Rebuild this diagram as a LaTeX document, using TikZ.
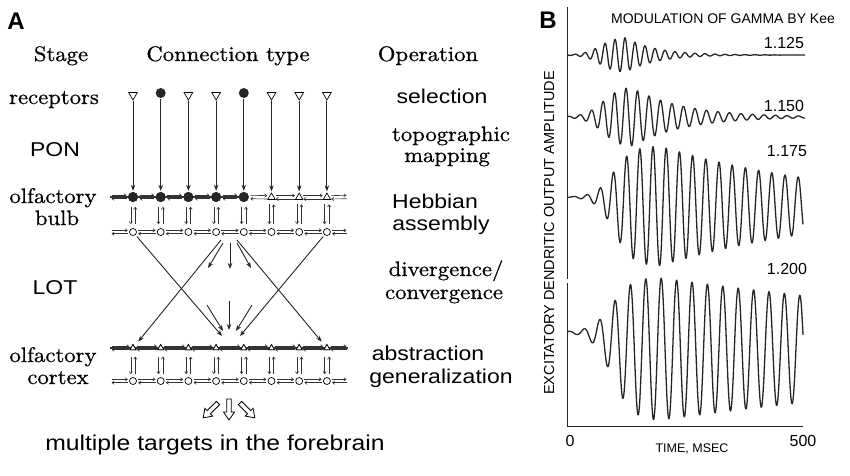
\documentclass[tikz,border=0pt]{standalone}
\usepackage{fontspec}
\newfontfamily\lmt{lmroman10-regular.otf}[FakeBold=0.7]
\newfontfamily\lis{Liberation Sans}
\usetikzlibrary{arrows.meta,shapes.geometric,calc}
\newcommand\sw[1]{\scalebox{1.08}[1]{#1}}
\newcommand\ssw[1]{\scalebox{1.15}[1]{#1}}
\newcommand\hollowarr[3]{%
  \begin{scope}[shift={(#1,#2)},rotate=#3]
    \draw[line width=0.8pt,fill=white,line join=miter] (0,-2.3) -- (13,-2.3) -- (13,-5.5) -- (21,0) -- (13,5.5) -- (13,2.3) -- (0,2.3) -- cycle;
  \end{scope}}
\begin{document}
\begin{tikzpicture}[x=1pt,y=-1pt,
  ser/.style={font=\lmt\fontsize{21}{23}\selectfont, anchor=base, inner sep=0pt},
  san/.style={font=\lis\fontsize{20}{22}\selectfont, anchor=base, inner sep=0pt},
  lbl/.style={font=\lis\bfseries\fontsize{24}{26}\selectfont, inner sep=0pt},
  bsm/.style={font=\lis\fontsize{16}{18}\selectfont, inner sep=0pt},
  rtri/.style={regular polygon, regular polygon sides=3, shape border rotate=180, draw, line width=0.7pt, inner sep=0pt, minimum size=10pt, fill=white},
  mtri/.style={regular polygon, regular polygon sides=3, draw, line width=0.7pt, inner sep=0pt, minimum size=8.5pt, fill=white},
  ptri/.style={regular polygon, regular polygon sides=3, draw, line width=0.7pt, inner sep=0pt, minimum size=7pt, fill=white},
  fcirc/.style={circle, fill=black!85, inner sep=0pt, minimum size=10pt},
  ocirc/.style={circle, draw, fill=white, line width=0.7pt, inner sep=0pt, minimum size=7pt},
  endpt/.style={inner sep=0pt, minimum size=0pt},
  arr/.style={line width=0.9pt, draw=black!85, -{Stealth[length=6pt,width=4.5pt]}},
  hp/.style={line width=0.6pt, draw=black!80, -{Straight Barb[length=2.2pt,width=3.2pt]}},
  trace/.style={line width=1.3pt, line join=round, draw=black!85}
]
\fill[white] (0,0) rectangle (850,475);
\useasboundingbox (0,0) rectangle (850,475);

% ---------------- Panel A labels
\node[lbl] (A) at (16,21) {A};
\node[ser] (hStage) at (61,61) {\sw{Stage}};
\node[ser] (hConn) at (228,61) {\sw{Connection type}};
\node[ser] (hOp) at (428,61) {\sw{Operation}};
\node[ser] (sRec) at (54,104) {\sw{receptors}};
\node[san] (sPON) at (55,156) {\ssw{PON}};
\node[ser] (sOB1) at (53,203) {\sw{olfactory}};
\node[ser] (sOB2) at (57,225) {\sw{bulb}};
\node[san] (sLOT) at (55,294) {\ssw{LOT}};
\node[ser] (sOC1) at (53,362) {\sw{olfactory}};
\node[ser] (sOC2) at (58,384) {\sw{cortex}};
\node[san] (oSel) at (442,103) {\ssw{selection}};
\node[ser] (oTop1) at (451,141) {\sw{topographic}};
\node[ser] (oTop2) at (447,162) {\sw{mapping}};
\node[san] (oHeb1) at (435,208) {\ssw{Hebbian}};
\node[san] (oHeb2) at (441,230) {\ssw{assembly}};
\node[ser] (oDiv1) at (446,276) {\sw{divergence/}};
\node[ser] (oDiv2) at (444,299) {\sw{convergence}};
\node[san] (oAbs1) at (428,360) {\ssw{abstraction}};
\node[san] (oAbs2) at (441,383) {\ssw{generalization}};
\node[san, font=\lis\fontsize{21.5}{24}\selectfont] (oMul) at (215,450) {\ssw{multiple targets in the forebrain}};

% ---------------- neural elements
\foreach \i in {1,...,8} {
  \pgfmathsetmacro\xx{133+27.7*(\i-1)}
  \ifnum\i=2 \node[fcirc] (r\i) at (\xx,93) {};
  \else\ifnum\i=5 \node[fcirc] (r\i) at (\xx,93) {};
  \else \node[rtri] (r\i) at (\xx,95) {};
  \fi\fi
  \ifnum\i<6 \node[fcirc] (m\i) at (\xx,197) {};
  \else \node[mtri] (m\i) at (\xx,197.3) {};
  \fi
  \node[ocirc] (g\i) at (\xx,232) {};
  \node[ptri] (p\i) at (\xx,348) {};
  \node[ocirc] (c\i) at (\xx,381) {};
}
\foreach \r/\yy in {m/197,g/232,p/348,c/381} {
  \node[endpt] (\r0) at (110,\yy) {};
  \node[endpt] (\r9) at (348,\yy) {};
}

% thick bands
\draw[line width=1.5pt, black!80] (m0) -- (m5);
\draw[line width=1.2pt, black!80] (p0) -- (p9);
\foreach \i in {1,...,5} {\node[fcirc] at (m\i) {};}
\foreach \i in {1,...,8} {\node[ptri] at (p\i) {};}

% horizontal reciprocal pairs
\foreach \r in {m,g,p,c} {
  \foreach \i [evaluate=\i as \j using int(\i+1)] in {0,...,8} {
    \draw[hp] ($(\r\i.east)+(1.3,-1.7)$) -- ($(\r\j.west)+(-1.3,-1.7)$);
    \draw[hp] ($(\r\j.west)+(-1.3,1.7)$) -- ($(\r\i.east)+(1.3,1.7)$);
  }
}

% vertical reciprocal pairs
\foreach \i in {1,...,8} {
  \draw[hp] ($(m\i.south)+(-2.2,4.5)$) -- ($(g\i.north)+(-2.2,-4)$);
  \draw[hp] ($(g\i.north)+(2.2,-4)$) -- ($(m\i.south)+(2.2,4.5)$);
  \draw[hp] ($(p\i.south)+(-2.2,6.5)$) -- ($(c\i.north)+(-2.2,-3)$);
  \draw[hp] ($(c\i.north)+(2.2,-3)$) -- ($(p\i.south)+(2.2,6.5)$);
}

% receptor axons (PON)
\foreach \i in {1,...,8} {
  \draw[arr, shorten >=1pt, shorten <=0.5pt] (r\i) -- (m\i);
}

% LOT
\coordinate (cvL) at (222,336);
\coordinate (cvR) at (240,336);
\coordinate (dvL) at (221,240);
\coordinate (dvR) at (237,240);
\draw[arr, shorten <=2pt] (g1) -- (cvL);
\draw[arr, shorten <=2pt] (g8) -- (cvR);
\draw[arr, shorten >=6pt] (dvL) -- (p1);
\draw[arr, shorten >=6pt] (dvR) -- (p8);
\coordinate (s1a) at (223,243); \coordinate (s1b) at (208,268);
\coordinate (s2a) at (230,243); \coordinate (s2b) at (230,269);
\coordinate (s3a) at (237,243); \coordinate (s3b) at (251,268);
\draw[arr] (s1a) -- (s1b);
\draw[arr] (s2a) -- (s2b);
\draw[arr] (s3a) -- (s3b);
\coordinate (t1a) at (207,305); \coordinate (t1b) at (223,331);
\coordinate (t2a) at (229,301); \coordinate (t2b) at (229,330);
\coordinate (t3a) at (252,305); \coordinate (t3b) at (236,331);
\draw[arr] (t1a) -- (t1b);
\draw[arr] (t2a) -- (t2b);
\draw[arr] (t3a) -- (t3b);

% outputs
\hollowarr{218}{403}{-135}
\hollowarr{229}{399}{-90}
\hollowarr{240}{403}{-45}

% ---------------- Panel B
\node[lbl] (B) at (548,20) {B};
\node[font=\lis\fontsize{14}{16}\selectfont, inner sep=0pt] (title) at (723,19) {MODULATION OF GAMMA BY Kee};
\node[bsm] (v1) at (784,43) {1.125};
\node[bsm] (v2) at (784,106) {1.150};
\node[bsm] (v3) at (787,151) {1.175};
\node[bsm] (v4) at (787,269) {1.200};
\node[bsm] (t0) at (570,441) {0};
\node[bsm] (t500) at (803,441) {500};
\node[font=\lis\fontsize{12.5}{14}\selectfont, inner sep=0pt] (xl) at (692,449) {TIME, MSEC};
\node[rotate=90, font=\lis\fontsize{14.5}{16}\selectfont, inner sep=0pt] (yl) at (549,233) {EXCITATORY DENDRITIC OUTPUT AMPLITUDE};

\draw[line width=1pt, black!85] (567.5,7) -- (567.5,279);
\draw[line width=1pt, black!85] (567.5,283) -- (567.5,426) -- (803,426);

\draw[trace] plot[domain=567.5:805,samples=700] (\x,{55-18/(1+exp(max(-9,-(\x-600)/8)))*exp(-max(0,\x-625)/30)*cos((\x-625)*36)});
\draw[trace] plot[domain=567.5:805,samples=700] (\x,{117-31/(1+exp(max(-9,-(\x-603)/9)))*exp(-max(0,\x-630)/50)*cos((\x-626)*31.304)});
\draw[trace] plot[domain=567.5:803,samples=700] (\x,{197+9/(1+exp(max(-9,-(\x-614)/9)))-60/(1+exp(max(-9,-(\x-614)/9)))*exp(-max(0,\x-660)/190)*cos((\x-653)*27.273)});
\draw[trace] plot[domain=567.5:803,samples=700] (\x,{332+17/(1+exp(max(-9,-(\x-612)/10)))-72/(1+exp(max(-9,-(\x-612)/10)))*exp(-max(0,\x-655)/500)*cos((\x-615)*23.377)});
\end{tikzpicture}
\end{document}
